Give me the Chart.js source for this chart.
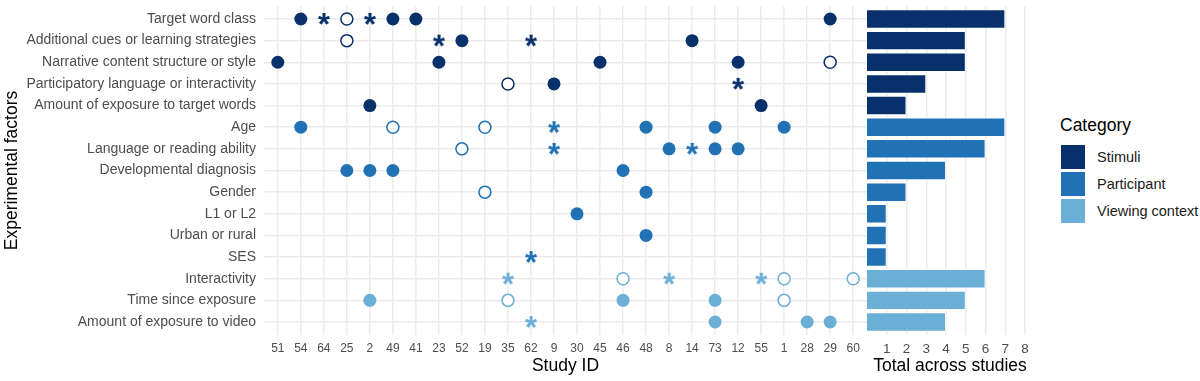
<!DOCTYPE html>
<html>
<head>
<meta charset="utf-8">
<script src="https://cdn.jsdelivr.net/npm/chart.js@4"></script>
<style>
  body { margin: 0; background: #fff; font-family: "Liberation Sans", Arial, sans-serif; }
  #wrap { position: relative; width: 1200px; height: 381px; }
  #dots { position: absolute; left: 0; top: 0; }
  #totals { position: absolute; left: 867px; top: 0; }
  #legend { position: absolute; left: 1060px; top: 115px; color: #000; }
  #legend .title { font-size: 17.5px; margin-bottom: 7px; }
  #legend .row { display: flex; align-items: center; height: 27px; font-size: 14.5px; color: #1a1a1a; }
  #legend .sw { width: 26px; height: 26px; margin-right: 11px; border: 1px solid #fff; box-sizing: border-box; }
</style>
</head>
<body>
<div id="wrap">
  <canvas id="dots" width="867" height="381"></canvas>
  <canvas id="totals" width="176" height="381"></canvas>
  <div id="legend"></div>
</div>
<script>
const studyIds = ['51', '54', '64', '25', '2', '49', '41', '23', '52', '19', '35', '62', '9',
  '30', '45', '46', '48', '8', '14', '73', '12', '55', '1', '28', '29', '60'];

const factors = [
  'Target word class',
  'Additional cues or learning strategies',
  'Narrative content structure or style',
  'Participatory language or interactivity',
  'Amount of exposure to target words',
  'Age',
  'Language or reading ability',
  'Developmental diagnosis',
  'Gender',
  'L1 or L2',
  'Urban or rural',
  'SES',
  'Interactivity',
  'Time since exposure',
  'Amount of exposure to video'
];

const categories = ['Stimuli', 'Participant', 'Viewing context'];
const categoryColors = ['#08306b', '#2171b5', '#6baed6'];
// category index for each factor
const factorCategory = [0, 0, 0, 0, 0, 1, 1, 1, 1, 1, 1, 1, 2, 2, 2];

// study ids per factor, by marker type
const filledMarks = [
  ['54', '49', '41', '29'],
  ['52', '14'],
  ['51', '23', '45', '12'],
  ['9'],
  ['2', '55'],
  ['54', '48', '73', '1'],
  ['8', '73', '12'],
  ['25', '2', '49', '46'],
  ['48'],
  ['30'],
  ['48'],
  [],
  [],
  ['2', '46', '73'],
  ['73', '28', '29']
];
const openMarks = [
  ['25'], ['25'], ['29'], ['35'], [],
  ['49', '19'], ['52'], [], ['19'], [], [], [],
  ['46', '1', '60'], ['35', '1'], []
];
const starMarks = [
  ['64', '2'], ['23', '62'], [], ['12'], [],
  ['9'], ['9', '14'], [], [], [], [], ['62'],
  ['35', '8', '55'], [], ['62']
];

const totals = [7, 5, 5, 3, 2, 7, 6, 4, 2, 1, 1, 1, 6, 5, 4];
const totalTicks = [1, 2, 3, 4, 5, 6, 7, 8];

const FONT = '"Liberation Sans", Arial, sans-serif';
const GRID = '#ebebeb';
const TICK_COLOR = '#4d4d4d';

function makeStar(color) {
  const c = document.createElement('canvas');
  c.width = 18;
  c.height = 18;
  const g = c.getContext('2d');
  g.fillStyle = color;
  g.font = 'bold 31px ' + FONT;
  g.textAlign = 'center';
  g.textBaseline = 'alphabetic';
  const m = g.measureText('*');
  g.fillText('*', 9, 9 + (m.actualBoundingBoxAscent - m.actualBoundingBoxDescent) / 2);
  return c;
}
const starImages = categoryColors.map(makeStar);

function buildPoints(marks) {
  const pts = [];
  marks.forEach((ids, row) => {
    ids.forEach(id => pts.push({ x: studyIds.indexOf(id), y: row, cat: factorCategory[row] }));
  });
  return pts;
}
const filledPts = buildPoints(filledMarks);
const openPts = buildPoints(openMarks);
const starPts = buildPoints(starMarks);

const yRange = { min: -0.6, max: factors.length - 0.4 };

// keep both panels' plot areas on the same rows
function xAxisFit(scale) {
  scale.height = 46;
  scale.paddingLeft = 0;
  scale.paddingRight = 0;
}

new Chart(document.getElementById('dots'), {
  type: 'scatter',
  data: {
    datasets: [
      {
        data: filledPts,
        pointRadius: 6.5,
        pointBorderWidth: 0,
        pointBackgroundColor: filledPts.map(p => categoryColors[p.cat])
      },
      {
        data: openPts,
        pointRadius: 6,
        pointBorderWidth: 1.5,
        pointBackgroundColor: '#fff',
        pointBorderColor: openPts.map(p => categoryColors[p.cat])
      },
      {
        data: starPts,
        pointStyle: starPts.map(p => starImages[p.cat])
      }
    ]
  },
  options: {
    responsive: false,
    animation: false,
    events: [],
    layout: { autoPadding: false, padding: { top: 6, right: 0, left: 0, bottom: 0 } },
    plugins: { legend: { display: false }, tooltip: { enabled: false } },
    scales: {
      x: {
        type: 'linear',
        min: -0.6,
        max: studyIds.length - 0.4,
        afterBuildTicks: scale => { scale.ticks = studyIds.map((_, i) => ({ value: i })); },
        afterFit: xAxisFit,
        grid: { color: GRID, lineWidth: 1.5, drawTicks: false },
        border: { display: false },
        ticks: {
          autoSkip: false,
          maxRotation: 0,
          padding: 6,
          color: TICK_COLOR,
          font: { family: FONT, size: 12 },
          callback: v => studyIds[v]
        },
        title: {
          display: true,
          text: 'Study ID',
          color: '#000',
          font: { family: FONT, size: 17.5 },
          padding: { top: 0, bottom: 4 }
        }
      },
      y: {
        type: 'linear',
        reverse: true,
        min: yRange.min,
        max: yRange.max,
        afterBuildTicks: scale => { scale.ticks = factors.map((_, i) => ({ value: i })); },
        afterFit: scale => {
          scale.width = 264;
          scale.paddingTop = 0;
          scale.paddingBottom = 0;
        },
        grid: { color: GRID, lineWidth: 1.5, drawTicks: false },
        border: { display: false },
        ticks: {
          autoSkip: false,
          padding: 8,
          color: TICK_COLOR,
          font: { family: FONT, size: 14 },
          callback: v => factors[v]
        },
        title: {
          display: true,
          text: 'Experimental factors',
          color: '#000',
          font: { family: FONT, size: 17.5 },
          padding: { top: 2, bottom: 0 }
        }
      }
    }
  }
});

new Chart(document.getElementById('totals'), {
  type: 'bar',
  data: {
    datasets: [{
      data: totals.map((t, i) => ({ x: t, y: i })),
      backgroundColor: factorCategory.map(c => categoryColors[c]),
      borderColor: 'rgba(255,255,255,0.7)',
      borderWidth: 1,
      categoryPercentage: 1,
      barPercentage: 0.9
    }]
  },
  options: {
    indexAxis: 'y',
    responsive: false,
    animation: false,
    events: [],
    layout: { padding: { top: 6, right: 10, left: 0, bottom: 0 } },
    plugins: { legend: { display: false }, tooltip: { enabled: false } },
    scales: {
      x: {
        type: 'linear',
        min: 0,
        max: 8.4,
        afterBuildTicks: scale => { scale.ticks = totalTicks.map(v => ({ value: v })); },
        afterFit: xAxisFit,
        grid: { color: GRID, lineWidth: 1.5, drawTicks: false },
        border: { display: false },
        ticks: {
          padding: 6,
          maxRotation: 0,
          color: TICK_COLOR,
          font: { family: FONT, size: 13.5 }
        },
        title: {
          display: true,
          text: 'Total across studies',
          color: '#000',
          font: { family: FONT, size: 17.5 },
          padding: { top: 0, bottom: 4 }
        }
      },
      y: {
        type: 'linear',
        reverse: true,
        offset: false,
        min: yRange.min,
        max: yRange.max,
        display: false
      }
    }
  }
});

// legend
const legend = document.getElementById('legend');
legend.innerHTML = '<div class="title">Category</div>' + categories.map((c, i) =>
  '<div class="row"><div class="sw" style="background:' + categoryColors[i] + '"></div>' + c + '</div>'
).join('');
</script>
</body>
</html>
